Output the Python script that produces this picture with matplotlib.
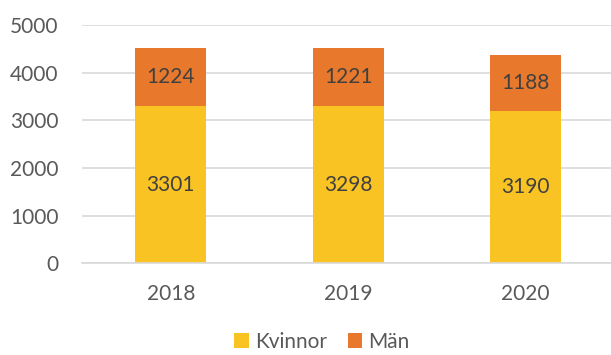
import matplotlib.pyplot as plt
import numpy as np

# Antal per år, uppdelat på kön
years = ['2018', '2019', '2020']
kvinnor = [3301, 3298, 3190]
man = [1224, 1221, 1188]

plt.rcParams['font.family'] = ['Lato', 'DejaVu Sans']

fig = plt.figure(figsize=(6.11, 3.55), dpi=100)
ax = fig.add_axes([82 / 611, 1 - 263.3 / 355, 532.5 / 611, 238.3 / 355])

x = np.arange(len(years))
yellow = '#F9C423'
orange = '#E8792C'

b1 = ax.bar(x, kvinnor, width=0.4, color=yellow, label='Kvinnor', zorder=2)
b2 = ax.bar(x, man, width=0.4, bottom=kvinnor, color=orange, label='Män', zorder=2)

ax.bar_label(b1, labels=[str(v) for v in kvinnor], label_type='center',
             fontsize=15, color='#404040')
ax.bar_label(b2, labels=[str(v) for v in man], label_type='center',
             fontsize=15, color='#404040')

ax.set_xlim(-0.5, 2.5)
ax.set_ylim(0, 5000)
ax.set_yticks(range(0, 5001, 1000))
ax.set_xticks(x)
ax.set_xticklabels(years)

ax.grid(axis='y', color='#D9D9D9', linewidth=1.2, zorder=0)
for s in ['top', 'right', 'left']:
    ax.spines[s].set_visible(False)
ax.spines['bottom'].set_color('#D9D9D9')
ax.spines['bottom'].set_linewidth(1.2)
ax.tick_params(axis='both', length=0, labelsize=15, colors='#595959')
ax.tick_params(axis='y', pad=17)
ax.tick_params(axis='x', pad=15)

fig.legend(loc='center', bbox_to_anchor=(322 / 611, 1 - 342 / 355), ncol=2,
           frameon=False, fontsize=15, handlelength=0.7, handleheight=0.7,
           handletextpad=0.3, columnspacing=1.0, labelcolor='#595959',
           borderaxespad=0)

fig.savefig('out.png', dpi=100)
